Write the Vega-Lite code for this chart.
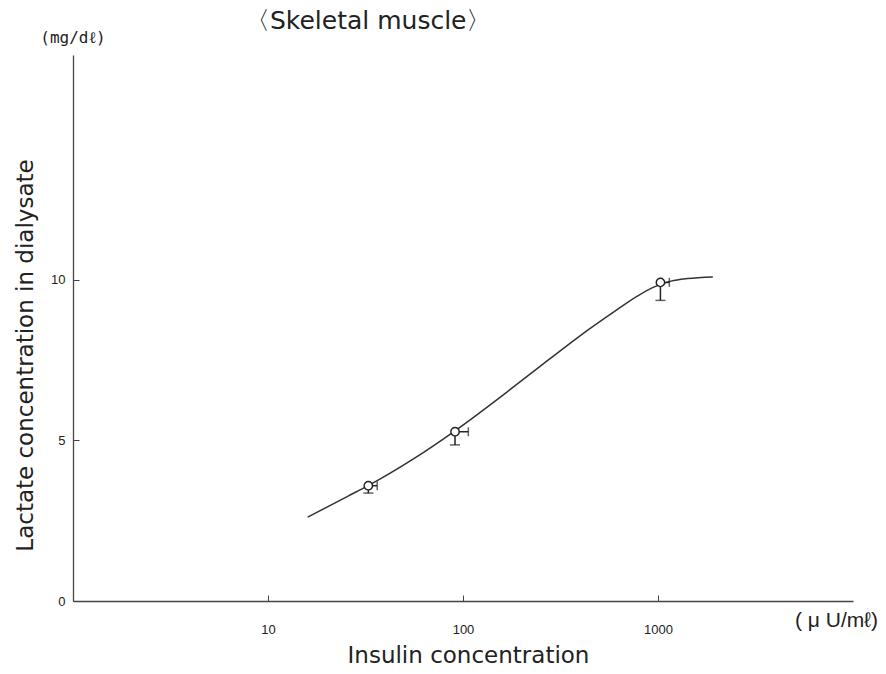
{
  "$schema": "https://vega.github.io/schema/vega-lite/v6.json",
  "width": 780,
  "height": 546,
  "autosize": "none",
  "padding": {"left": 73, "top": 55, "right": 33, "bottom": 73},
  "background": "white",
  "title": {
    "text": "〈Skeletal muscle〉",
    "anchor": "start",
    "frame": "group",
    "dx": 172,
    "offset": -4,
    "font": "DejaVu Sans",
    "fontSize": 25,
    "fontWeight": "normal",
    "color": "#222"
  },
  "config": {
    "view": {"stroke": null},
    "axis": {
      "domainColor": "#444",
      "domainWidth": 1.3,
      "ticks": false,
      "grid": true,
      "gridColor": "#444",
      "gridWidth": 1,
      "gridDash": [6, 3000],
      "gridOpacity": 1,
      "labelFont": "Liberation Sans",
      "labelFontSize": 13,
      "labelColor": "#222",
      "titleFont": "DejaVu Sans",
      "titleFontSize": 23,
      "titleFontWeight": "normal",
      "titleColor": "#222"
    },
    "axisX": {"gridDashOffset": 2466},
    "axisY": {"gridDash": [6, 3000]}
  },
  "datasets": {
    "curve": [
      {"insulin": 15.98, "lactate": 2.61},
      {"insulin": 25.6, "lactate": 3.26},
      {"insulin": 32.6, "lactate": 3.59},
      {"insulin": 56.2, "lactate": 4.44},
      {"insulin": 91, "lactate": 5.3},
      {"insulin": 183, "lactate": 6.68},
      {"insulin": 272, "lactate": 7.49},
      {"insulin": 403, "lactate": 8.28},
      {"insulin": 594, "lactate": 9.0},
      {"insulin": 787, "lactate": 9.5},
      {"insulin": 957, "lactate": 9.78},
      {"insulin": 1167, "lactate": 9.96},
      {"insulin": 1419, "lactate": 10.04},
      {"insulin": 1910, "lactate": 10.09}
    ],
    "points": [
      {"insulin": 32.7, "lactate": 3.59, "lactate_low": 3.36, "insulin_high": 36.3},
      {"insulin": 91, "lactate": 5.27, "lactate_low": 4.86, "insulin_high": 106.5},
      {"insulin": 1029, "lactate": 9.92, "lactate_low": 9.36, "insulin_high": 1143}
    ],
    "units": [
      {"insulin": 1, "lactate": 17, "label": "(mg/dℓ)", "kind": "y"},
      {"insulin": 10000, "lactate": 0, "label": "( μ U/mℓ)", "kind": "x"}
    ]
  },
  "layer": [
    {
      "data": {"name": "curve"},
      "mark": {"type": "line", "interpolate": "monotone", "color": "#333", "strokeWidth": 1.5},
      "encoding": {
        "x": {
          "field": "insulin",
          "type": "quantitative",
          "scale": {"type": "log", "domain": [1, 10000], "nice": false},
          "axis": {
            "values": [10, 100, 1000],
            "format": "d",
            "title": "Insulin concentration",
            "labelPadding": 22,
            "titleX": 395,
            "titleY": 43,
            "titleBaseline": "top"
          }
        },
        "y": {
          "field": "lactate",
          "type": "quantitative",
          "scale": {"domain": [0, 17], "nice": false},
          "axis": {
            "values": [0, 5, 10],
            "title": "Lactate concentration in dialysate",
            "labelPadding": 8,
            "titleX": -48,
            "titleY": 300,
            "titleAngle": -90,
            "titleBaseline": "middle",
            "titleAlign": "center"
          }
        }
      }
    },
    {
      "data": {"name": "points"},
      "mark": {"type": "rule", "color": "#222", "strokeWidth": 1.5},
      "encoding": {
        "x": {"field": "insulin", "type": "quantitative"},
        "y": {"field": "lactate", "type": "quantitative"},
        "y2": {"field": "lactate_low"}
      }
    },
    {
      "data": {"name": "points"},
      "mark": {"type": "tick", "orient": "horizontal", "color": "#222", "size": 10, "thickness": 1.5},
      "encoding": {
        "x": {"field": "insulin", "type": "quantitative"},
        "y": {"field": "lactate_low", "type": "quantitative"}
      }
    },
    {
      "data": {"name": "points"},
      "mark": {"type": "rule", "color": "#222", "strokeWidth": 1.5},
      "encoding": {
        "x": {"field": "insulin", "type": "quantitative"},
        "x2": {"field": "insulin_high"},
        "y": {"field": "lactate", "type": "quantitative"}
      }
    },
    {
      "data": {"name": "points"},
      "mark": {"type": "tick", "orient": "vertical", "color": "#222", "size": 9, "thickness": 1.5},
      "encoding": {
        "x": {"field": "insulin_high", "type": "quantitative"},
        "y": {"field": "lactate", "type": "quantitative"}
      }
    },
    {
      "data": {"name": "points"},
      "mark": {"type": "point", "shape": "circle", "filled": true, "fill": "white", "stroke": "#222", "strokeWidth": 1.4, "size": 70, "opacity": 1},
      "encoding": {
        "x": {"field": "insulin", "type": "quantitative"},
        "y": {"field": "lactate", "type": "quantitative"}
      }
    },
    {
      "data": {"name": "units"},
      "transform": [{"filter": "datum.kind === 'y'"}],
      "mark": {"type": "text", "align": "center", "baseline": "middle", "dy": -17, "font": "DejaVu Sans Mono", "fontSize": 16, "color": "#222"},
      "encoding": {
        "x": {"field": "insulin", "type": "quantitative"},
        "y": {"field": "lactate", "type": "quantitative"},
        "text": {"field": "label"}
      }
    },
    {
      "data": {"name": "units"},
      "transform": [{"filter": "datum.kind === 'x'"}],
      "mark": {"type": "text", "align": "left", "baseline": "middle", "dx": -58, "dy": 20, "font": "Liberation Sans", "fontSize": 21, "color": "#222"},
      "encoding": {
        "x": {"field": "insulin", "type": "quantitative"},
        "y": {"field": "lactate", "type": "quantitative"},
        "text": {"field": "label"}
      }
    }
  ]
}
